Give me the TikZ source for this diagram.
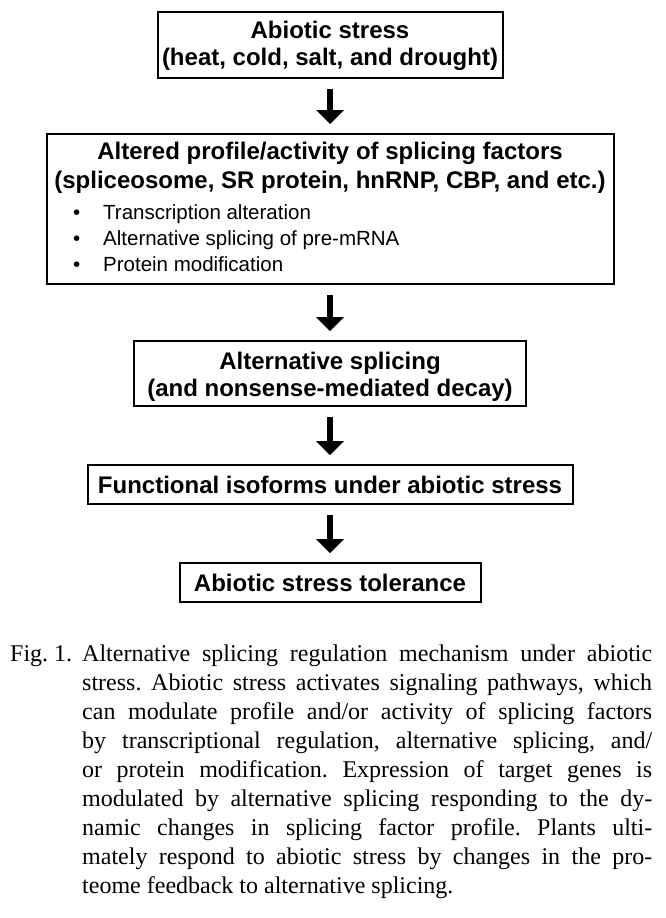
\documentclass[tikz,border=0pt]{standalone}
\usepackage{fontspec}
\setmainfont{Liberation Serif}
\setsansfont{Liberation Sans}
\tikzset{
  box/.style={draw=black, line width=2pt, fill=white, inner sep=0pt},
  title/.style={font=\sffamily\bfseries\fontsize{24}{26.5}\selectfont, align=center, inner sep=0pt},
  bullet/.style={font=\sffamily\fontsize{20.5}{24}\selectfont, anchor=west, inner sep=0pt, text height=15pt, text depth=4pt},
  captext/.style={font=\fontsize{24}{29}\selectfont, anchor=west, inner sep=0pt, text height=17pt, text depth=5pt},
  shaft/.style={line width=5.5pt},
  head/.style={fill=black},
}
\newcommand{\flowarrow}[2]{%
  \draw[shaft] ([yshift=-10pt]#1.south) -- ([yshift=22pt]#2.north);
  \fill[head] ([xshift=-14pt,yshift=23pt]#2.north) -- ([xshift=14pt,yshift=23pt]#2.north) -- ([yshift=9pt]#2.north) -- cycle;}
\begin{document}
\frenchspacing
\begin{tikzpicture}[x=1pt,y=-1pt]
\useasboundingbox (0,0) rectangle (665,918);
% boxes
\node[box, minimum width=345pt, minimum height=66pt] (b1) at (330,45) {};
\node[title] (t1) at (330,46) {Abiotic stress\\(heat, cold, salt, and drought)};

\node[box, minimum width=567pt, minimum height=150pt] (b2) at (330,209) {};
\node[title] (t2a) at (330,153) {Altered profile/activity of splicing factors};
\node[title] (t2b) at (330,182) {(spliceosome, SR protein, hnRNP, CBP, and etc.)};
\node[bullet] (d1) at (73,214) {\textbullet};
\node[bullet] (d2) at (73,240) {\textbullet};
\node[bullet] (d3) at (73,266) {\textbullet};
\node[bullet] (s1) at (103,214) {Transcription alteration};
\node[bullet] (s2) at (103,240) {Alternative splicing of pre-mRNA};
\node[bullet] (s3) at (103,266) {Protein modification};

\node[box, minimum width=392pt, minimum height=65pt] (b3) at (330,373.5) {};
\node[title] (t3) at (330,377) {Alternative splicing\\(and nonsense-mediated decay)};

\node[box, minimum width=485pt, minimum height=39pt] (b4) at (330,484.5) {};
\node[title] (t4) at (330,485) {Functional isoforms under abiotic stress};

\node[box, minimum width=301pt, minimum height=39pt] (b5) at (330,582.5) {};
\node[title] (t5) at (330,583) {Abiotic stress tolerance};

% arrows
\flowarrow{b1}{b2}
\flowarrow{b2}{b3}
\flowarrow{b3}{b4}
\flowarrow{b4}{b5}

% caption
\node[captext] (fig) at (10,655) {Fig. 1.};
\node[captext] (c1) at (82,655) {\makebox[570pt][s]{Alternative splicing regulation mechanism under abiotic}};
\node[captext] (c2) at (82,684) {\makebox[570pt][s]{stress. Abiotic stress activates signaling pathways, which}};
\node[captext] (c3) at (82,713) {\makebox[570pt][s]{can modulate profile and/or activity of splicing factors}};
\node[captext] (c4) at (82,742) {\makebox[570pt][s]{by transcriptional regulation, alternative splicing, and/}};
\node[captext] (c5) at (82,771) {\makebox[570pt][s]{or protein modification. Expression of target genes is}};
\node[captext] (c6) at (82,800) {\makebox[570pt][s]{modulated by alternative splicing responding to the dy-}};
\node[captext] (c7) at (82,829) {\makebox[570pt][s]{namic changes in splicing factor profile. Plants ulti-}};
\node[captext] (c8) at (82,858) {\makebox[570pt][s]{mately respond to abiotic stress by changes in the pro-}};
\node[captext] (c9) at (82,887) {teome feedback to alternative splicing.};
\end{tikzpicture}
\end{document}
